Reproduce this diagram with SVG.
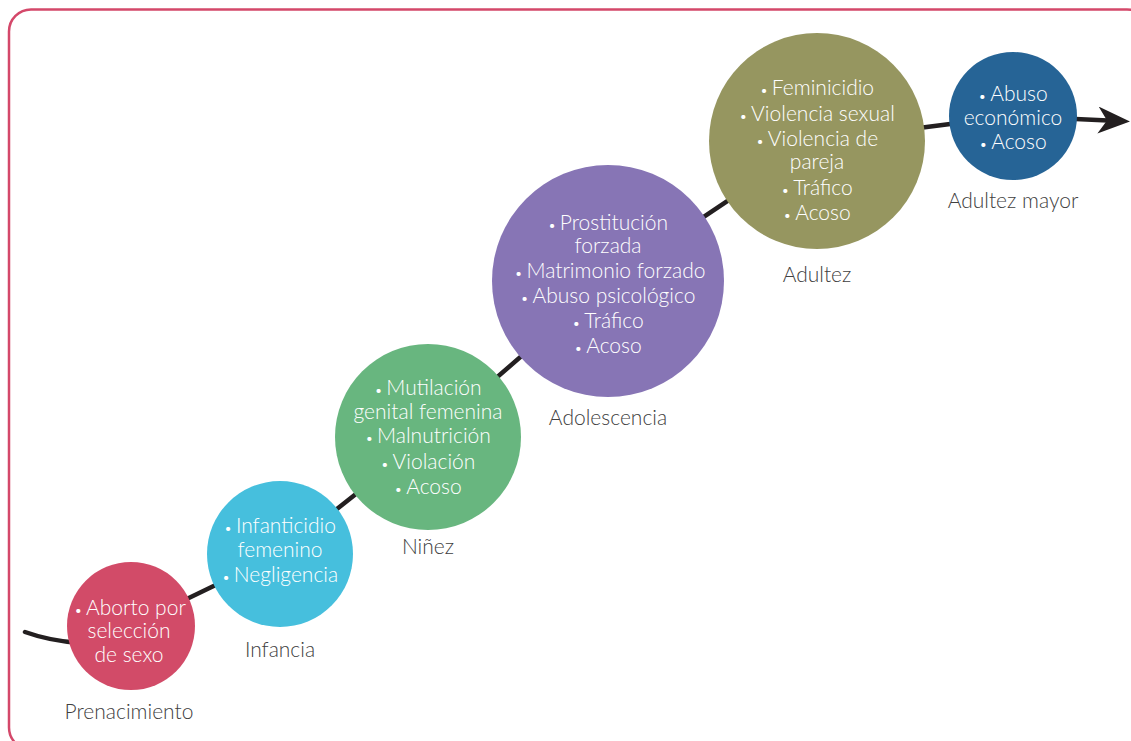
<svg xmlns="http://www.w3.org/2000/svg" width="1131" height="741" viewBox="0 0 1131 741">
<style>
.frame{fill:none;stroke:#d4486a;stroke-width:2.5}
.conn{fill:none;stroke:#231f20;stroke-width:4.5;stroke-linecap:round}
.t{font-family:Lato,"Open Sans","Liberation Sans",sans-serif;font-weight:300;font-size:21px;text-anchor:middle}
.w{fill:#ffffff}
.lbl{fill:#404040}
.b{font-size:14px}
</style>
<defs>
<marker id="arrow" viewBox="0 0 32 27" refX="10" refY="13.5" markerWidth="32" markerHeight="27" markerUnits="userSpaceOnUse" orient="auto">
<path d="M32,13.5 L0,0 L9,13.5 L0,27 Z" fill="#231f20"/>
</marker>
</defs>
<rect class="frame" x="9" y="9.5" width="1140" height="740" rx="22" ry="22"/>
<g id="connectors">
<path class="conn" d="M25,632 Q50,641 80,643 L131,626 L280,554 L428,437 L608,281 L817,141 L1013,116 L1108,120.5" marker-end="url(#arrow)"/>
</g>
<g id="prenacimiento">
<circle cx="131" cy="626" r="64" fill="#d24b68"/>
<text class="t w" x="130" y="615"><tspan class="b">• </tspan>Aborto por</text>
<text class="t w" x="129" y="638">selección</text>
<text class="t w" x="129" y="662">de sexo</text>
<text class="t lbl" x="129" y="719">Prenacimiento</text>
</g>
<g id="infancia">
<circle cx="280" cy="554" r="73" fill="#46bfdd"/>
<text class="t w" x="280" y="533"><tspan class="b">• </tspan>Infanticidio</text>
<text class="t w" x="280" y="557">femenino</text>
<text class="t w" x="280" y="582"><tspan class="b">• </tspan>Negligencia</text>
<text class="t lbl" x="280" y="657">Infancia</text>
</g>
<g id="ninez">
<circle cx="428" cy="437" r="93" fill="#68b67f"/>
<text class="t w" x="428" y="395"><tspan class="b">• </tspan>Mutilación</text>
<text class="t w" x="428" y="419">genital femenina</text>
<text class="t w" x="428" y="443"><tspan class="b">• </tspan>Malnutrición</text>
<text class="t w" x="428" y="469"><tspan class="b">• </tspan>Violación</text>
<text class="t w" x="428" y="494"><tspan class="b">• </tspan>Acoso</text>
<text class="t lbl" x="428" y="554">Niñez</text>
</g>
<g id="adolescencia">
<circle cx="608" cy="281" r="116" fill="#8775b5"/>
<text class="t w" x="608" y="230"><tspan class="b">• </tspan>Prostitución</text>
<text class="t w" x="608" y="253">forzada</text>
<text class="t w" x="610" y="278"><tspan class="b">• </tspan>Matrimonio forzado</text>
<text class="t w" x="608" y="303"><tspan class="b">• </tspan>Abuso  psicológico</text>
<text class="t w" x="608" y="328"><tspan class="b">• </tspan>Tráfico</text>
<text class="t w" x="608" y="353"><tspan class="b">• </tspan>Acoso</text>
<text class="t lbl" x="608" y="425">Adolescencia</text>
</g>
<g id="adultez">
<circle cx="817" cy="141" r="108" fill="#969660"/>
<text class="t w" x="817" y="95"><tspan class="b">• </tspan>Feminicidio</text>
<text class="t w" x="817" y="121"><tspan class="b">• </tspan>Violencia sexual</text>
<text class="t w" x="817" y="146"><tspan class="b">• </tspan>Violencia de</text>
<text class="t w" x="817" y="169">pareja</text>
<text class="t w" x="817" y="195"><tspan class="b">• </tspan>Tráfico</text>
<text class="t w" x="817" y="220"><tspan class="b">• </tspan>Acoso</text>
<text class="t lbl" x="817" y="282">Adultez</text>
</g>
<g id="adultez-mayor">
<circle cx="1013" cy="116" r="64" fill="#266496"/>
<text class="t w" x="1013" y="101"><tspan class="b">• </tspan>Abuso</text>
<text class="t w" x="1013" y="125">económico</text>
<text class="t w" x="1013" y="149"><tspan class="b">• </tspan>Acoso</text>
<text class="t lbl" x="1013" y="208">Adultez mayor</text>
</g>
</svg>
